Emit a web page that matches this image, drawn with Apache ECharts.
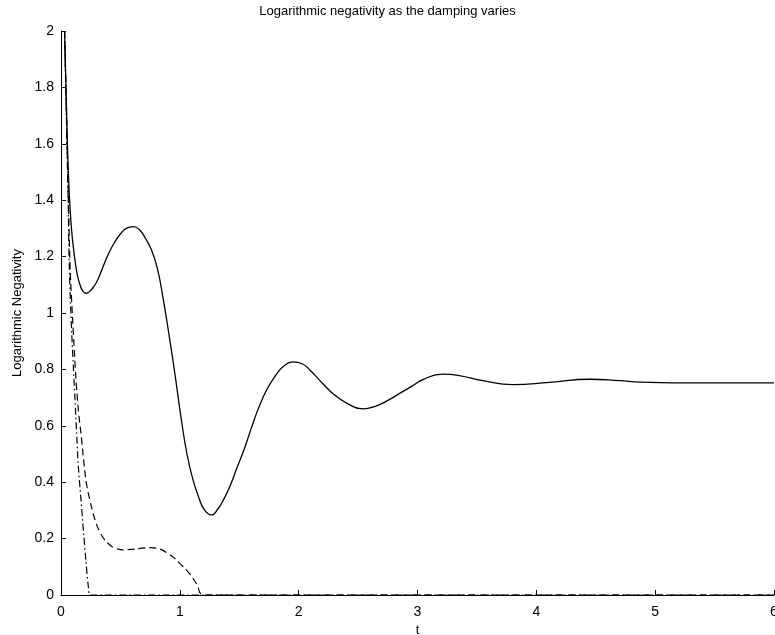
<!DOCTYPE html>
<html>
<head>
<meta charset="utf-8">
<script src="https://cdn.jsdelivr.net/npm/echarts@6/dist/echarts.min.js"></script>
<style>
  html, body { margin: 0; padding: 0; background: #fff; }
  #chart { width: 775px; height: 635px; }
</style>
</head>
<body>
<div id="chart"></div>
<script>
// values
var tSolid = [0.03, 0.045, 0.06, 0.075, 0.09, 0.105, 0.12, 0.14, 0.16, 0.18, 0.21, 0.25, 0.30, 0.35, 0.40, 0.45, 0.50, 0.55, 0.61, 0.66, 0.71, 0.76, 0.81, 0.86, 0.91, 0.96, 1.01, 1.06, 1.11, 1.16, 1.21, 1.266, 1.32, 1.37, 1.42, 1.48, 1.54, 1.60, 1.66, 1.73, 1.80, 1.87, 1.95, 2.03, 2.10, 2.20, 2.30, 2.43, 2.54, 2.65, 2.75, 2.85, 2.95, 3.05, 3.21, 3.35, 3.55, 3.80, 4.11, 4.45, 4.70, 4.87, 5.40, 6.00];
var vSolid = [2.00, 1.75, 1.52, 1.38, 1.29, 1.23, 1.18, 1.13, 1.10, 1.08, 1.07, 1.08, 1.11, 1.16, 1.21, 1.25, 1.28, 1.30, 1.306, 1.295, 1.265, 1.225, 1.16, 1.05, 0.92, 0.78, 0.63, 0.50, 0.41, 0.345, 0.30, 0.284, 0.305, 0.34, 0.384, 0.45, 0.515, 0.59, 0.66, 0.727, 0.775, 0.81, 0.827, 0.82, 0.795, 0.751, 0.71, 0.674, 0.66, 0.67, 0.69, 0.715, 0.74, 0.765, 0.783, 0.778, 0.76, 0.746, 0.754, 0.765, 0.76, 0.755, 0.752, 0.752];

var tDash = [0.03, 0.045, 0.061, 0.076, 0.09, 0.104, 0.117, 0.13, 0.15, 0.174, 0.195, 0.216, 0.244, 0.27, 0.30, 0.33, 0.37, 0.41, 0.45, 0.524, 0.60, 0.68, 0.75, 0.80, 0.85, 0.90, 0.94, 1.00, 1.08, 1.14, 1.20, 6.00];
var vDash = [2.0, 1.72, 1.42, 1.17, 1.04, 0.93, 0.83, 0.74, 0.64, 0.55, 0.46, 0.39, 0.335, 0.29, 0.25, 0.22, 0.195, 0.178, 0.167, 0.16, 0.162, 0.166, 0.168, 0.166, 0.16, 0.147, 0.136, 0.112, 0.077, 0.04, 0.0, 0.0];

var tDashDot = [0.03, 0.045, 0.06, 0.07, 0.09, 0.104, 0.118, 0.132, 0.146, 0.168, 0.19, 0.21, 0.23, 0.245, 6.00];
var vDashDot = [2.0, 1.7, 1.4, 1.16, 0.93, 0.81, 0.69, 0.57, 0.455, 0.34, 0.22, 0.12, 0.03, 0.0, 0.0];

var xTicks = [0, 6, 1];   // min, max, step
var yTicks = [0, 2, 0.2];

function pairs(t, v) {
  return t.map(function(x, i) { return [x, v[i]]; });
}

var font = 'Liberation Sans, Arial, sans-serif';
var chart = echarts.init(document.getElementById('chart'));

chart.setOption({
  animation: false,
  backgroundColor: '#fff',
  title: {
    text: 'Logarithmic negativity as the damping varies',
    left: 'center',
    top: 0,
    textStyle: { fontSize: 13, fontWeight: 'normal', color: '#000', fontFamily: font }
  },
  grid: { left: 61, right: 1, top: 31, bottom: 40, outerBoundsMode: 'none', containLabel: false },
  xAxis: {
    type: 'value',
    min: xTicks[0], max: xTicks[1], interval: xTicks[2],
    name: 't',
    nameLocation: 'middle',
    nameGap: 27,
    nameTextStyle: { fontSize: 13, color: '#000', fontFamily: font },
    axisLine: { lineStyle: { color: '#000', width: 1 } },
    axisTick: { inside: true, length: 5, lineStyle: { color: '#000' } },
    axisLabel: { fontSize: 14, color: '#000', fontFamily: font, margin: 10, hideOverlap: false },
    splitLine: { show: false }
  },
  yAxis: {
    type: 'value',
    min: yTicks[0], max: yTicks[1], interval: yTicks[2],
    name: 'Logarithmic Negativity',
    nameLocation: 'middle',
    nameGap: 37,
    nameRotate: 90,
    nameTextStyle: { fontSize: 13, color: '#000', fontFamily: font },
    axisLine: { show: true, lineStyle: { color: '#000', width: 1 } },
    axisTick: { show: true, inside: true, length: 5, lineStyle: { color: '#000' } },
    axisLabel: { fontSize: 14, color: '#000', fontFamily: font, margin: 7 },
    splitLine: { show: false }
  },
  series: [
    {
      name: 'solid',
      type: 'line',
      data: pairs(tSolid, vSolid),
      showSymbol: false,
      smooth: 0.5,
      lineStyle: { color: '#000', width: 1.3, type: 'solid' }
    },
    {
      name: 'dashed',
      type: 'line',
      data: pairs(tDash, vDash),
      showSymbol: false,
      smooth: 0.4,
      lineStyle: { color: '#000', width: 1.2, type: [7, 4] }
    },
    {
      name: 'dashdot',
      type: 'line',
      data: pairs(tDashDot, vDashDot),
      showSymbol: false,
      smooth: 0.3,
      lineStyle: { color: '#000', width: 1.2, type: [7, 3, 1.5, 3] }
    }
  ]
});
</script>
</body>
</html>
